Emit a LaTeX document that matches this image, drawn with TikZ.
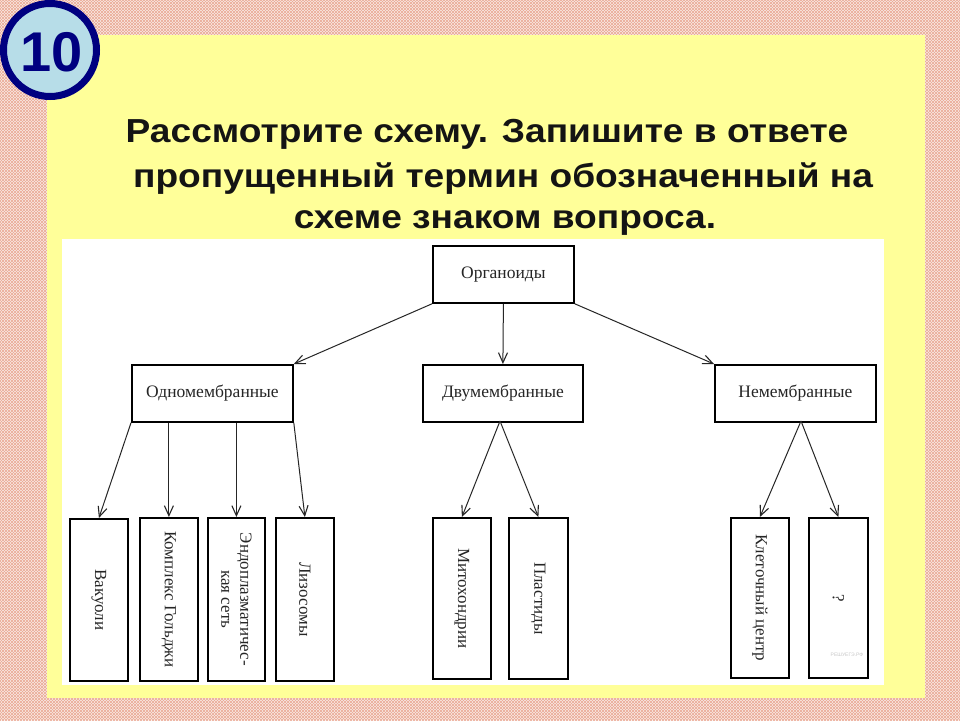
\documentclass[tikz,border=0pt]{standalone}
\usepackage{fontspec}
\setmainfont{Liberation Serif}
\newfontfamily\titlefont{Liberation Sans}
\usetikzlibrary{arrows.meta,patterns}
\definecolor{bgpink}{RGB}{250,234,228}
\definecolor{hatch}{RGB}{235,170,150}
\definecolor{panel}{RGB}{255,255,153}
\definecolor{navy}{RGB}{0,0,128}
\definecolor{lightblue}{RGB}{183,221,232}
\definecolor{wmark}{RGB}{200,200,200}
\tikzset{
  box/.style={draw=black, line width=1.8pt, fill=white, anchor=north west, inner sep=0pt},
  boxtext/.style={font=\fontsize{17.5}{20}\selectfont, text=black!85, align=center},
  vtext/.style={font=\fontsize{17}{19}\selectfont, text=black!85, align=center, rotate=-90},
  conn/.style={draw=black!85, line width=1pt, -{Straight Barb[length=10pt,width=9pt,line width=1.1pt]}},
  titleline/.style={font=\titlefont\bfseries\fontsize{32}{38}\selectfont, text=black!92, inner sep=0pt}
}
\newcommand{\wide}[1]{\scalebox{1.16}[1.04]{#1}}
\begin{document}
\begin{tikzpicture}[x=1pt,y=-1pt]
\useasboundingbox (0,0) rectangle (960,720);
% background
\fill[bgpink] (0,0) rectangle (960,720);
\fill[pattern=north east lines, pattern color=hatch] (0,0) rectangle (960,720);
\fill[pattern=north west lines, pattern color=hatch] (0,0) rectangle (960,720);
% yellow panel
\fill[panel] (47,35) rectangle (925,698);
% number badge
\node[circle, draw=navy, line width=7pt, fill=lightblue, minimum size=93pt, inner sep=0pt] (badge) at (50,50) {};
\node[font=\titlefont\bfseries\fontsize{56}{60}\selectfont, text=navy] (num) at (52,52) {10};
% title
\node[titleline] (l1) at (487,134) {\wide{Рассмотрите схему. Запишите в ответе}};
\node[titleline] (l2) at (503,179) {\wide{пропущенный термин обозначенный на}};
\node[titleline] (l3) at (505,223) {\wide{схеме знаком вопроса.}};
% white diagram area
\fill[white] (62,239) rectangle (884,685);
% level 1
\node[box, minimum width=141pt, minimum height=57pt] (org) at (432,245) {};
\node[boxtext] (orgt) at (org.center) {Органоиды};
% level 2
\node[box, minimum width=161pt, minimum height=57pt] (odno) at (131,364) {};
\node[boxtext] (odnot) at (odno.center) {Одномембранные};
\node[box, minimum width=160pt, minimum height=57pt] (dvu) at (422,364) {};
\node[boxtext] (dvut) at (dvu.center) {Двумембранные};
\node[box, minimum width=161pt, minimum height=57pt] (nem) at (714,364) {};
\node[boxtext] (nemt) at (nem.center) {Немембранные};
% level 3
\node[box, minimum width=58pt, minimum height=162pt] (vak) at (69,518) {};
\node[vtext] (vakt) at (vak.center) {Вакуоли};
\node[box, minimum width=58pt, minimum height=163pt] (gol) at (139,517) {};
\node[vtext] (golt) at (gol.center) {Комплекс Гольджи};
\node[box, minimum width=57pt, minimum height=163pt] (eps) at (207,517) {};
\node[vtext] (epst) at (eps.center) {Эндоплазматичес-\\кая сеть};
\node[box, minimum width=58pt, minimum height=163pt] (liz) at (275,517) {};
\node[vtext] (lizt) at (liz.center) {Лизосомы};
\node[box, minimum width=58pt, minimum height=161pt] (mit) at (432,517) {};
\node[vtext] (mitt) at (mit.center) {Митохондрии};
\node[box, minimum width=59pt, minimum height=161pt] (pla) at (508,517) {};
\node[vtext] (plat) at (pla.center) {Пластиды};
\node[box, minimum width=58pt, minimum height=160pt] (kle) at (730,517) {};
\node[vtext] (klet) at (kle.center) {Клеточный центр};
\node[box, minimum width=59pt, minimum height=160pt] (que) at (808,517) {};
\node[vtext] (quet) at (que.center) {?};
\node[font=\titlefont\fontsize{5}{6}\selectfont, text=wmark] (wm) at (847,655) {РЕШУЕГЭ.РФ};
% connectors
\draw[conn] (org.south west) -- (odno.north east);
\draw[conn] (org.south) -- (dvu.north);
\draw[conn] (org.south east) -- (nem.north west);
\draw[conn] (odno.south west) -- (vak.north);
\draw[conn] (odno.south west -| gol.north) -- (gol.north);
\draw[conn] (odno.south west -| eps.north) -- (eps.north);
\draw[conn] (odno.south east) -- (liz.north);
\coordinate (dvuapex) at (500,421);
\coordinate (nemapex) at (801,421);
\draw[conn] (dvuapex) -- (mit.north);
\draw[conn] (dvuapex) -- (pla.north);
\draw[conn] (nemapex) -- (kle.north);
\draw[conn] (nemapex) -- (que.north);
\end{tikzpicture}
\end{document}
